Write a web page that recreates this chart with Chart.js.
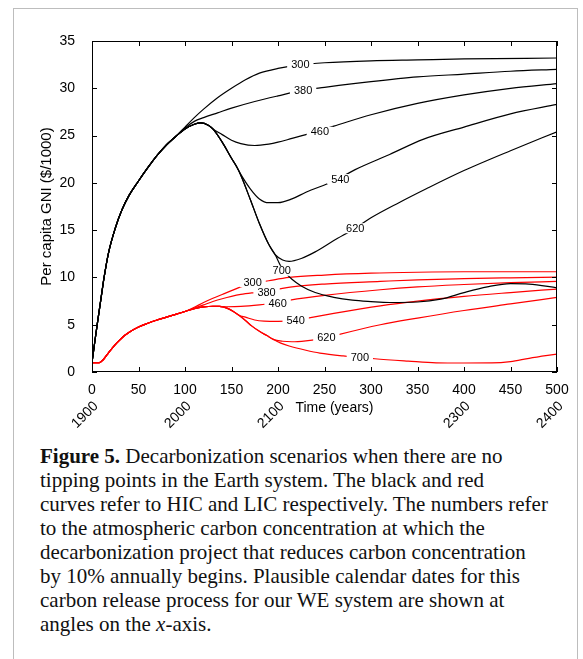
<!DOCTYPE html>
<html>
<head>
<meta charset="utf-8">
<script src="https://cdn.jsdelivr.net/npm/chart.js@4.4.1/dist/chart.umd.min.js"></script>
<style>
  html, body { margin: 0; padding: 0; background: #fff; }
  #figure { position: absolute; left: 13px; top: 8px; width: 563px; height: 700px; border: 1px solid #bdbdbd; }
  #gni { position: absolute; left: 0; top: 0; }
  #caption {
    position: absolute; left: 40px; top: 444px;
    font-family: 'Liberation Serif', 'Times New Roman', serif;
    font-size: 21px; line-height: 24px; color: #111; white-space: nowrap;
  }
</style>
</head>
<body>
<div id="figure"></div>
<canvas id="gni" width="583" height="440"></canvas>
<div id="caption"><b>Figure 5.</b> Decarbonization scenarios when there are no<br>tipping points in the Earth system. The black and red<br>curves refer to HIC and LIC respectively. The numbers refer<br>to the atmospheric carbon concentration at which the<br>decarbonization project that reduces carbon concentration<br>by 10% annually begins. Plausible calendar dates for this<br>carbon release process for our WE system are shown at<br>angles on the <i>x</i>-axis.</div>
<script>
'use strict';

// HIC (black) pieces: [time, GNI]
const hicRise = [[0,1],[3,3.2],[6,5.3],[10,8],[13,10],[18,12.7],[25,15.2],[32,17.1],[40,18.7],[50,20.2],[60,21.6],[70,22.9],[80,24.0],[90,24.9]];
const hic300 = [[100,25.9],[110,26.9],[120,27.8],[135,29.0],[150,30.0],[165,30.9],[180,31.6],[200,32.1],[225,32.5],[250,32.7],[300,32.9],[350,33.0],[400,33.1],[500,33.2]];
const hic380 = [[100,25.8],[110,26.5],[120,26.9],[135,27.4],[150,27.9],[175,28.6],[200,29.2],[227,29.8],[250,30.1],[300,30.7],[350,31.2],[400,31.5],[450,31.8],[500,32.0]];
const hicPeak = [[100,25.7],[110,26.2],[117,26.35],[125,26.1],[130,25.7]];
const hic460 = [[140,25.1],[150,24.5],[160,24.15],[175,23.95],[190,24.1],[200,24.3],[215,24.7],[230,25.1],[260,26.0],[300,27.2],[350,28.4],[400,29.3],[450,30.0],[500,30.5]];
const hicFall = [[140,24.3],[150,22.6],[155,21.8]];
const hic540 = [[160,20.9],[170,19.4],[180,18.3],[190,17.9],[200,17.9],[215,18.3],[230,19.0],[260,20.2],[283,21.4],[320,23.0],[356,24.6],[400,25.9],[450,27.3],[500,28.3]];
const hicDrop = [[160,20.8],[170,18.3],[180,15.7],[190,13.5],[197,12.4]];
const hic620 = [[205,11.85],[212,11.7],[225,12.0],[240,12.7],[260,13.9],[283,15.2],[300,16.3],[330,17.9],[360,19.4],[400,21.3],[450,23.4],[500,25.4]];
const hic700 = [[203,11.2],[208,10.5],[215,9.8],[225,9.1],[240,8.4],[260,7.9],[280,7.6],[300,7.45],[320,7.35],[350,7.4],[375,7.7],[400,8.4],[425,9.0],[450,9.35],[470,9.3],[500,8.9]];

// LIC (red) pieces
const licRise = [[0,1],[8,1],[12,1.3],[16,1.8],[20,2.3],[25,2.9],[30,3.4],[35,3.85],[40,4.2],[50,4.75],[60,5.15],[70,5.5],[80,5.8],[90,6.1],[100,6.4]];
const lic300 = [[110,6.85],[120,7.35],[130,7.8],[140,8.2],[150,8.6],[160,9.0],[173,9.35],[190,9.65],[212,10.0],[250,10.25],[300,10.45],[350,10.55],[400,10.6],[500,10.6]];
const lic380 = [[110,6.75],[120,7.1],[130,7.45],[140,7.75],[150,8.0],[160,8.2],[175,8.4],[188,8.55],[200,8.75],[213,8.98],[250,9.3],[310,9.58],[350,9.75],[400,9.87],[450,9.96],[500,10.04]];
const licPeak = [[110,6.7],[120,6.88],[130,6.95],[137,6.93]];
const lic460 = [[145,6.9],[160,6.93],[180,7.1],[200,7.35],[213,7.6],[250,8.1],[310,8.7],[350,9.0],[400,9.25],[450,9.45],[500,9.58]];
const licFall = [[145,6.75],[152,6.4],[158,6.0]];
const lic540 = [[165,5.8],[175,5.5],[185,5.38],[200,5.35],[219,5.45],[232,5.7],[260,6.2],[310,7.0],[350,7.5],[400,8.0],[450,8.4],[500,8.77]];
const licDrop = [[165,5.45],[172,4.85],[180,4.3],[188,3.85],[195,3.45]];
const lic620 = [[205,3.25],[215,3.2],[230,3.3],[252,3.6],[265,3.95],[310,5.0],[350,5.7],[400,6.5],[450,7.2],[500,7.89]];
const lic700 = [[203,3.05],[212,2.75],[230,2.3],[245,2.0],[270,1.7],[288,1.55],[304,1.4],[340,1.15],[370,0.97],[400,0.95],[430,0.96],[450,1.1],[470,1.45],[500,1.9]];

// curve labels: [text, time, GNI]
const hicLabels = [['300',224,32.5],['380',227,29.8],['460',245,25.4],['540',267,20.4],['620',283,15.2],['700',204,10.7]];
const licLabels = [['300',172.7,9.5],['380',187.7,8.4],['460',199.6,7.2],['540',219,5.5],['620',252,3.6],['700',288,1.55]];

// calendar dates set at angles under the time axis
const yearTicks = [0, 100, 200, 400, 500];
const yearLabels = ['1900', '2000', '2100', '2300', '2400'];

const FONT = "'Liberation Sans', Arial, Helvetica, sans-serif";
Chart.defaults.font.family = FONT;
Chart.defaults.color = '#000';

function toXY(pairs) {
  return pairs.map(p => ({ x: p[0], y: p[1] }));
}

const hicCurves = [
  hicRise.concat(hic300),
  hicRise.concat(hic380),
  hicRise.concat(hicPeak, hic460),
  hicRise.concat(hicPeak, hicFall, hic540),
  hicRise.concat(hicPeak, hicFall, hicDrop, hic620),
  hicRise.concat(hicPeak, hicFall, hicDrop, hic700)
];
const licCurves = [
  licRise.concat(lic300),
  licRise.concat(lic380),
  licRise.concat(licPeak, lic460),
  licRise.concat(licPeak, licFall, lic540),
  licRise.concat(licPeak, licFall, licDrop, lic620),
  licRise.concat(licPeak, licFall, licDrop, lic700)
];

const datasets = [];
hicCurves.forEach((c, i) => datasets.push({ label: 'HIC ' + hicLabels[i][0], data: toXY(c), borderColor: '#000' }));
licCurves.forEach((c, i) => datasets.push({ label: 'LIC ' + licLabels[i][0], data: toXY(c), borderColor: '#ff0000' }));

// box, inward ticks on all four sides, curve labels and the date labels
const frameAndLabels = {
  id: 'frameAndLabels',
  afterDatasetsDraw(chart) {
    const { ctx, chartArea: a, scales: { x, y } } = chart;
    ctx.save();

    ctx.font = '11px ' + FONT;
    ctx.textAlign = 'center';
    ctx.textBaseline = 'middle';
    hicLabels.concat(licLabels).forEach(([t, vx, vy]) => {
      const px = x.getPixelForValue(vx), py = y.getPixelForValue(vy);
      const w = ctx.measureText(t).width + 8;
      ctx.fillStyle = '#fff';
      ctx.fillRect(px - w / 2, py - 5, w, 10);
      ctx.fillStyle = '#000';
      ctx.fillText(t, px, py + 0.5);
    });

    ctx.strokeStyle = '#000';
    ctx.lineWidth = 1;
    ctx.strokeRect(a.left + 0.5, a.top + 0.5, a.right - a.left - 1, a.bottom - a.top - 1);
    ctx.beginPath();
    x.ticks.forEach(t => {
      const px = Math.round(x.getPixelForValue(t.value)) + 0.5;
      ctx.moveTo(px, a.bottom); ctx.lineTo(px, a.bottom - 5);
      ctx.moveTo(px, a.top); ctx.lineTo(px, a.top + 5);
    });
    y.ticks.forEach(t => {
      const py = Math.round(y.getPixelForValue(t.value)) + 0.5;
      ctx.moveTo(a.left, py); ctx.lineTo(a.left + 5, py);
      ctx.moveTo(a.right, py); ctx.lineTo(a.right - 5, py);
    });
    ctx.stroke();

    ctx.fillStyle = '#000';
    ctx.font = '14px ' + FONT;
    ctx.textAlign = 'center';
    ctx.textBaseline = 'middle';
    ctx.fillText('Time (years)', (a.left + a.right) / 2 + 10, 408);

    ctx.textAlign = 'right';
    yearTicks.forEach((v, i) => {
      ctx.save();
      ctx.translate(x.getPixelForValue(v) + 4, 404);
      ctx.rotate(-Math.PI / 4);
      ctx.fillText(yearLabels[i], 0, 0);
      ctx.restore();
    });

    ctx.restore();
  }
};

new Chart(document.getElementById('gni'), {
  type: 'line',
  data: { datasets: datasets },
  options: {
    responsive: false,
    animation: false,
    layout: { padding: { left: 0, top: 41, right: 26, bottom: 0 } },
    plugins: { legend: { display: false }, tooltip: { enabled: false } },
    elements: {
      point: { radius: 0 },
      line: { borderWidth: 1.2, cubicInterpolationMode: 'monotone' }
    },
    scales: {
      x: {
        type: 'linear', min: 0, max: 500,
        ticks: { stepSize: 50, padding: 2, font: { size: 14 } },
        grid: { display: false },
        border: { display: false },
        afterFit(s) { s.height = 68; }
      },
      y: {
        min: 0, max: 35,
        ticks: { stepSize: 5, padding: 9, font: { size: 14 } },
        grid: { display: false },
        border: { display: false },
        title: { display: true, text: 'Per capita GNI ($/1000)', font: { size: 15 }, padding: { top: 38, bottom: 0 } },
        afterFit(s) { s.width = 92; }
      }
    }
  },
  plugins: [frameAndLabels]
});
</script>
</body>
</html>
